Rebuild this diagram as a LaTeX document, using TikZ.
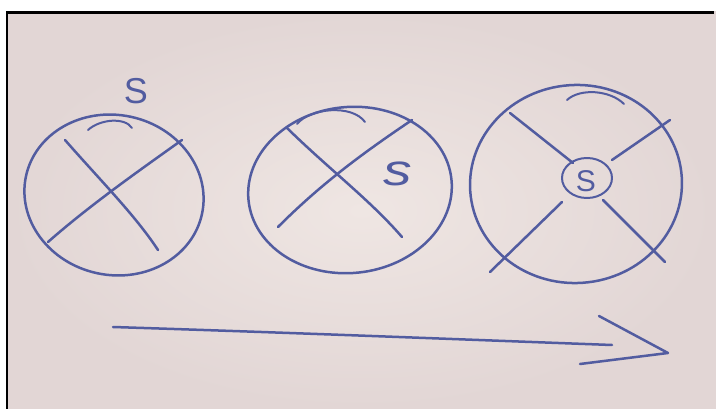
\documentclass[tikz,border=0pt]{standalone}
\usepackage{fontspec}
\setmainfont{Liberation Sans}
\usepackage{graphicx}
\definecolor{pen}{RGB}{82,92,160}
\definecolor{paper}{RGB}{239,230,227}
\definecolor{paperdark}{RGB}{226,214,213}
\begin{document}
\begin{tikzpicture}[x=1pt,y=-1pt,
  ink/.style={draw=pen,line width=2.5pt,line cap=round,line join=round},
  thin ink/.style={draw=pen,line width=2pt,line cap=round,line join=round},
  letter/.style={text=pen,inner sep=0pt}]
\useasboundingbox (0,0) rectangle (716,409);
\fill[white] (0,0) rectangle (716,409);
\shade[inner color=paper,outer color=paperdark] (7,12) rectangle (716,409);
\draw[black,line width=2.6pt] (7,409) -- (7,12.5) -- (714,12.5);

% ---- circle 1
\coordinate (c1) at (114,195);
\draw[ink,rotate around={-12:(c1)}] (c1) ellipse [x radius=90, y radius=80];
\draw[ink] (65,140) .. controls (100,180) and (135,215) .. (158,250);
\draw[ink] (182,140) .. controls (140,170) and (90,205) .. (48,242);
\draw[thin ink] (88,130) .. controls (100,119) and (125,117) .. (132,128);
\node[letter,font=\fontsize{36}{40}\selectfont] (s1) at (136,91) {S};

% ---- circle 2
\coordinate (c2) at (350,190);
\draw[ink,rotate around={6:(c2)}] (c2) ellipse [x radius=102, y radius=83];
\draw[ink] (287,128) .. controls (330,170) and (370,200) .. (402,237);
\draw[ink] (412,120) .. controls (360,155) and (320,185) .. (278,227);
\draw[thin ink] (297,124) .. controls (310,108) and (352,104) .. (365,122);
\node[letter,font=\fontsize{44}{48}\selectfont] (s2) at (398,174) {\scalebox{1.3}[1]{\itshape s}};

% ---- circle 3
\coordinate (c3) at (576,184);
\draw[ink,rotate around={4:(c3)}] (c3) ellipse [x radius=106, y radius=99];
\draw[thin ink] (587,178) ellipse [x radius=25, y radius=20];
\node[letter,font=\fontsize{30}{32}\selectfont] (s3) at (586,181) {S};
\draw[ink] (510,113) -- (573,163);
\draw[ink] (612,160) -- (670,120);
\draw[ink] (562,202) -- (490,272);
\draw[ink] (603,200) -- (665,262);
\draw[thin ink] (567,100) .. controls (580,88) and (610,90) .. (624,104);

% ---- arrow
\coordinate (a0) at (113,327);
\coordinate (a1) at (612,345);
\coordinate (h1) at (599,316);
\coordinate (tip) at (668,353);
\coordinate (h2) at (580,364);
\draw[ink] (a0) .. controls (300,333) and (450,339) .. (a1);
\draw[ink] (h1) -- (tip) -- (h2);
\end{tikzpicture}
\end{document}
